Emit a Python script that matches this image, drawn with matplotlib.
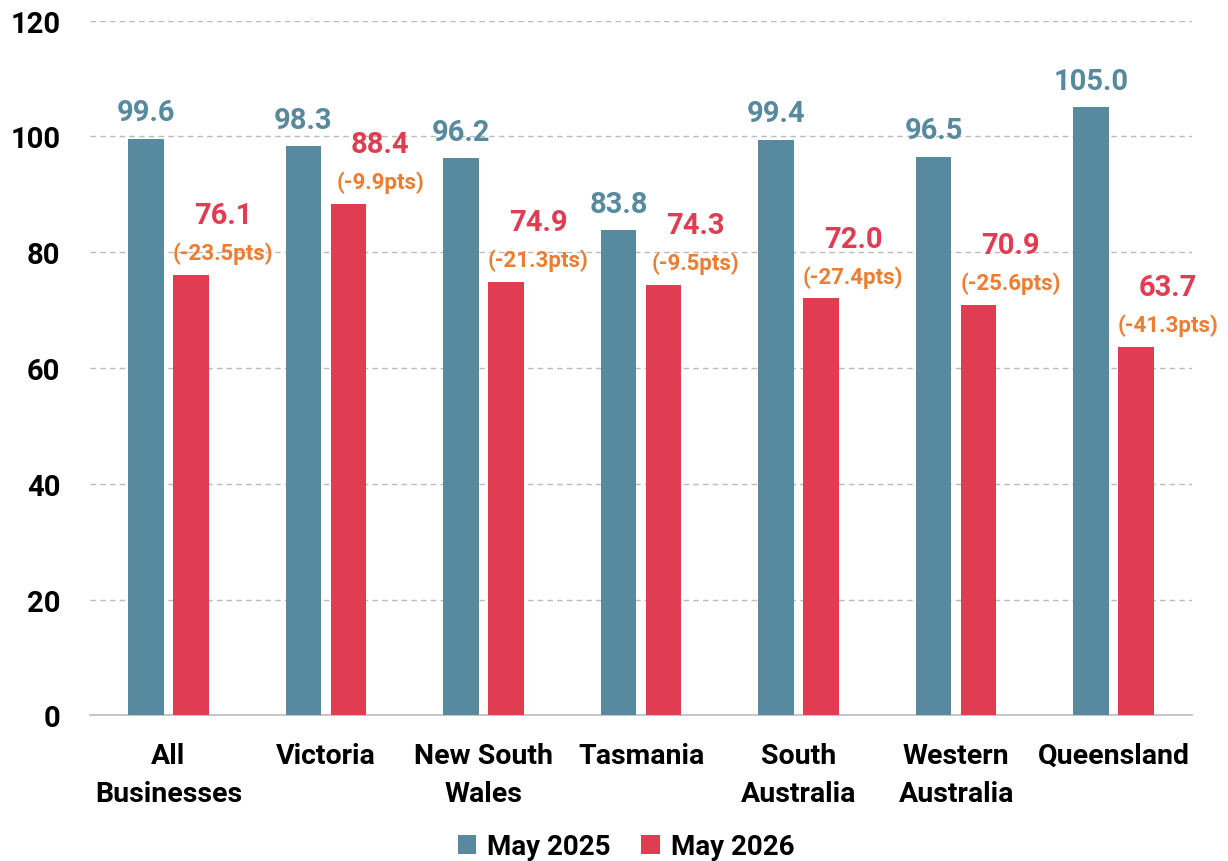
import numpy as np
import matplotlib.pyplot as plt

categories = ["All\nBusinesses", "Victoria", "New South\nWales", "Tasmania",
              "South\nAustralia", "Western\nAustralia", "Queensland"]
may_2025 = [99.6, 98.3, 96.2, 83.8, 99.4, 96.5, 105.0]
may_2026 = [76.1, 88.4, 74.9, 74.3, 72.0, 70.9, 63.7]
changes = [-23.5, -9.9, -21.3, -9.5, -27.4, -25.6, -41.3]

blue = "#578A9E"
red = "#E03C52"
orange = "#ED7D31"

plt.rcParams["font.family"] = ["Roboto", "DejaVu Sans"]
plt.rcParams["font.weight"] = "bold"


def main():
    fig = plt.figure(figsize=(12.28, 8.62), dpi=100)
    ax = fig.add_axes([0.073, 0.169, 0.898, 0.806])

    x = np.arange(len(categories))
    w = 0.225
    off = 0.143
    ax.bar(x - off, may_2025, w, color=blue, label="May 2025", zorder=3)
    ax.bar(x + off, may_2026, w, color=red, label="May 2026", zorder=3)

    # red labels sit a little to the right of their bars
    for i in range(len(categories)):
        ax.annotate(f"{may_2025[i]:.1f}", (x[i] - off, may_2025[i]), xytext=(0, 19),
                    textcoords="offset points", ha="center", va="center",
                    fontsize=21, color=blue, fontweight="bold")
        ax.annotate(f"({changes[i]:.1f}pts)", (x[i] + off, may_2026[i]), xytext=(23, 16),
                    textcoords="offset points", ha="center", va="center",
                    fontsize=16, color=orange, fontweight="bold")
        ax.annotate(f"{may_2026[i]:.1f}", (x[i] + off, may_2026[i]), xytext=(23, 43),
                    textcoords="offset points", ha="center", va="center",
                    fontsize=21, color=red, fontweight="bold")

    ax.set_xlim(-0.5, len(categories) - 0.5)
    ax.set_ylim(0, 120)
    ax.set_yticks(range(0, 121, 20))
    ax.set_xticks(x)
    ax.set_xticklabels(categories, fontsize=20.5, fontweight="bold", linespacing=1.55)
    ax.tick_params(axis="y", labelsize=21, length=0, pad=21)
    ax.tick_params(axis="x", length=0, pad=19)
    ax.grid(True, axis="y", color="#BBBBBB", linestyle=(0, (4, 3)), linewidth=1, zorder=0)
    for s in ["top", "right", "left"]:
        ax.spines[s].set_visible(False)
    ax.spines["bottom"].set_color("#BBBBBB")
    ax.spines["bottom"].set_linewidth(1.2)

    fig.legend(loc="lower center", ncol=2, frameon=False, fontsize=20,
               bbox_to_anchor=(0.51, -0.028), handlelength=0.65, handleheight=0.65,
               columnspacing=1.1, handletextpad=0.4)

    fig.savefig("out.png", dpi=100)


if __name__ == "__main__":
    main()
